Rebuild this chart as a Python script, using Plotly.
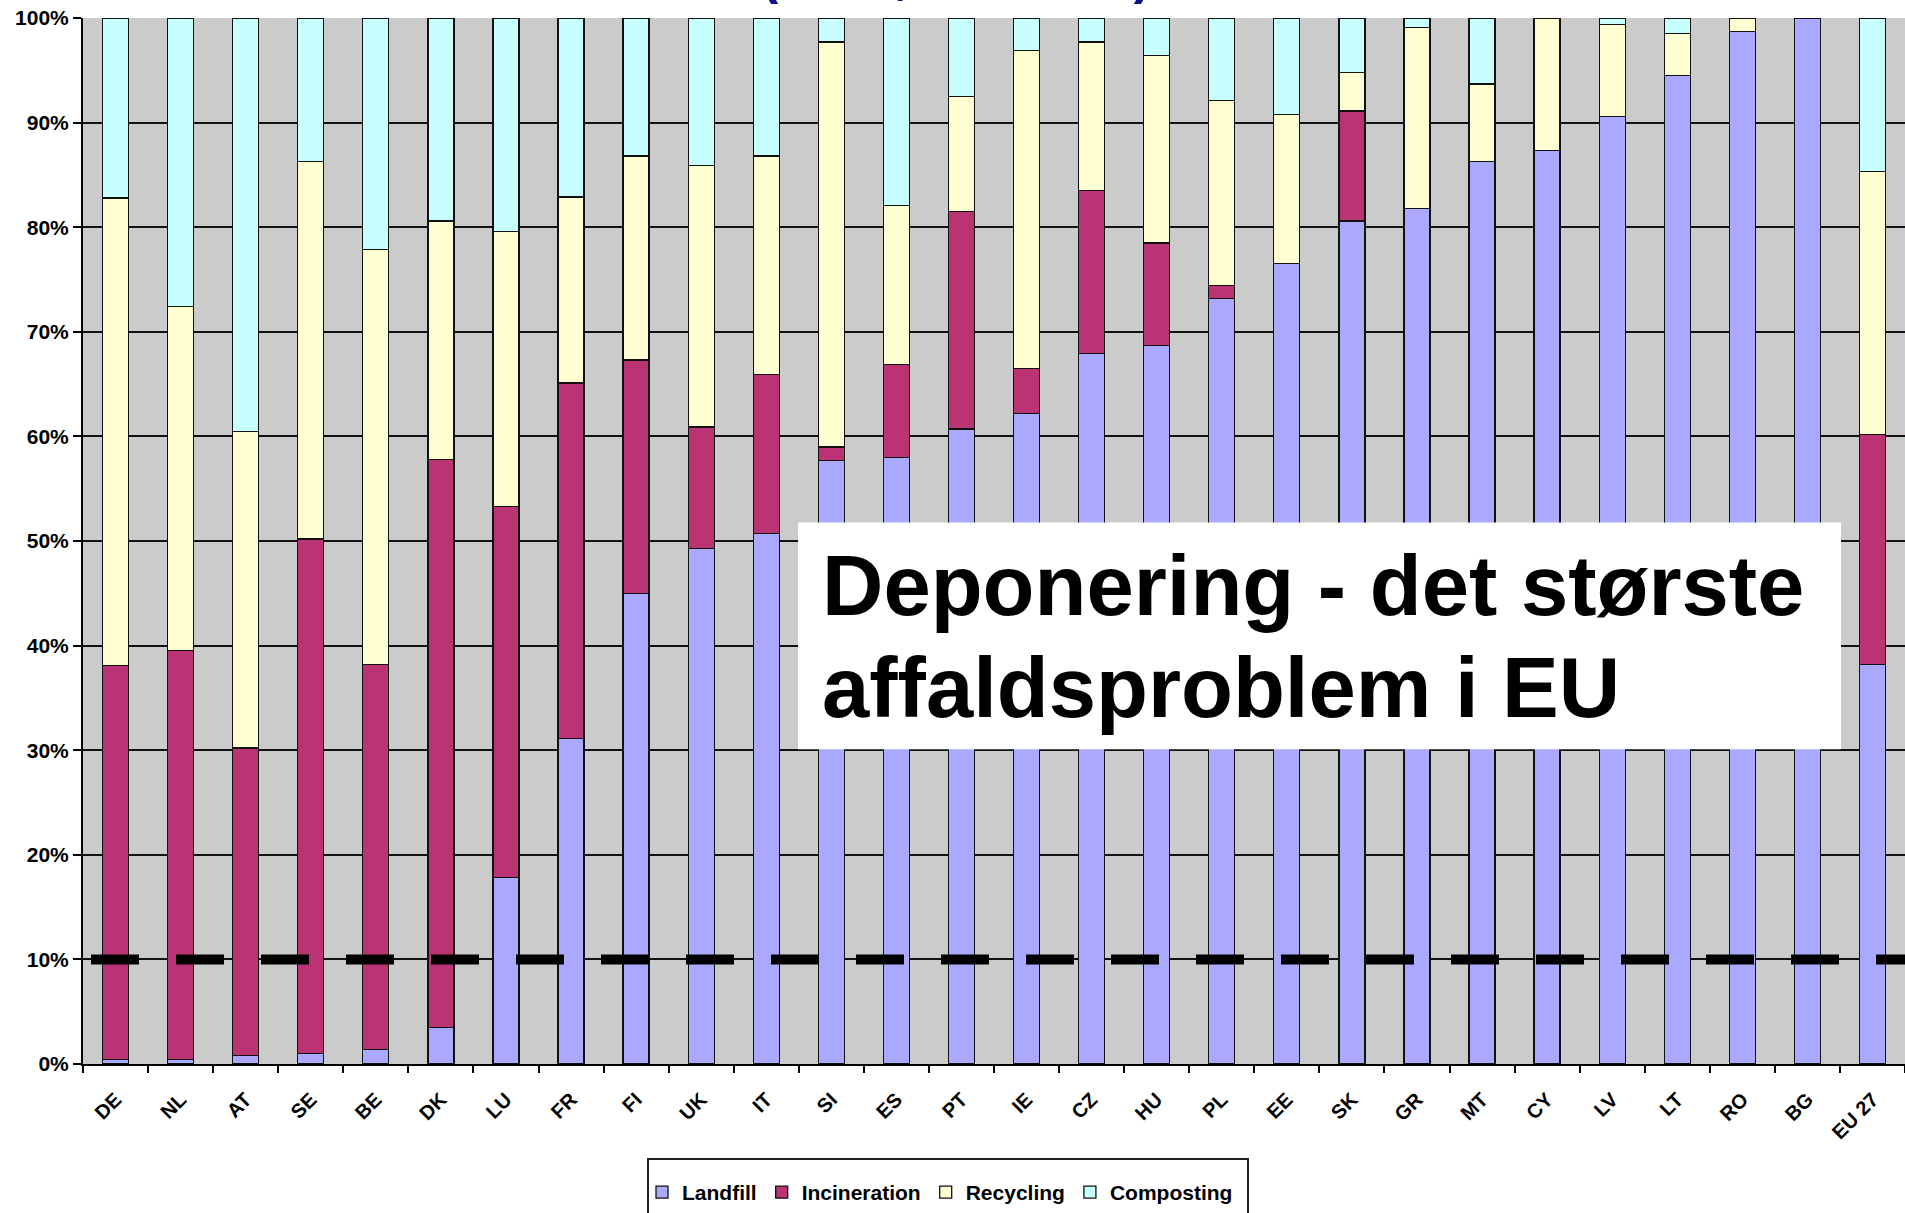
import plotly.graph_objects as go

countries = ["DE", "NL", "AT", "SE", "BE", "DK", "LU", "FR", "FI", "UK", "IT", "SI", "ES", "PT",
             "IE", "CZ", "HU", "PL", "EE", "SK", "GR", "MT", "CY", "LV", "LT", "RO", "BG", "EU 27"]

landfill =     [0.4, 0.4, 0.8, 1.0, 1.4, 3.5, 17.8, 31.1, 45.0, 49.3, 50.7, 57.7, 58.0, 60.7,
                62.2, 67.9, 68.7, 73.2, 76.5, 80.6, 81.8, 86.3, 87.3, 90.6, 94.5, 98.7, 100.0, 38.2]
incineration = [37.7, 39.1, 29.4, 49.2, 36.8, 54.3, 35.5, 34.0, 22.3, 11.6, 15.2, 1.3, 8.9, 20.8,
                 4.3, 15.6, 9.8, 1.2, 0.0, 10.5, 0.0, 0.0, 0.0, 0.0, 0.0, 0.0, 0.0, 22.0]
recycling =    [44.7, 32.9, 30.3, 36.1, 39.7, 22.8, 26.3, 17.8, 19.5, 25.0, 20.9, 38.7, 15.2, 11.0,
                30.4, 14.2, 17.9, 17.7, 14.3, 3.7, 17.3, 7.4, 12.7, 8.8, 4.0, 1.3, 0.0, 25.1]
composting =   [17.2, 27.6, 39.5, 13.7, 22.1, 19.4, 20.4, 17.1, 13.2, 14.1, 13.2, 2.3, 17.9, 7.5,
                3.1, 2.3, 3.6, 7.9, 9.2, 5.2, 0.9, 6.3, 0.0, 0.6, 1.5, 0.0, 0.0, 14.7]

series_names = ["Landfill", "Incineration", "Recycling", "Composting"]
series_values = [landfill, incineration, recycling, composting]
series_colors = ["#ABA8FF", "#BA3474", "#FFFDD2", "#C7FEFE"]

y_ticks = [0, 10, 20, 30, 40, 50, 60, 70, 80, 90, 100]
target = 10

title_text = "(2006, Eurostat)"
box_lines = ["Deponering - det største", "affaldsproblem i EU"]

fig = go.Figure()
for name, vals, col in zip(series_names, series_values, series_colors):
    fig.add_trace(go.Bar(
        x=countries, y=vals, name=name,
        marker=dict(color=col, line=dict(color="#111111", width=1.3)),
    ))

W, H = 1905, 1213
L, R, T, B = 83, 0, 18, 148
pw = W - L - R
ph = H - T - B

def px_x(p):
    return (p - L) / pw

def px_y(p):
    return (H - B - p) / ph

fig.update_layout(
    width=W, height=H,
    margin=dict(l=L, r=R, t=T, b=B, pad=0),
    barmode="stack",
    bargap=0.6,
    plot_bgcolor="#CBCBCB",
    paper_bgcolor="white",
    font=dict(family="Liberation Sans, Arial, sans-serif", color="black"),
    showlegend=True,
    legend=dict(
        orientation="h",
        x=px_x(642), xanchor="left",
        y=px_y(1194), yanchor="middle",
        borderwidth=0,
        bgcolor="rgba(0,0,0,0)",
        font=dict(family="Liberation Sans Narrow, Arial Narrow, Liberation Sans, sans-serif",
                  size=21, weight="bold", color="black"),
        itemwidth=30,
        traceorder="normal",
        tracegroupgap=0,
    ),
    xaxis=dict(
        type="category",
        tickangle=-45,
        tickson="boundaries",
        ticks="outside", ticklen=7, tickwidth=1.5, tickcolor="black",
        ticklabelstandoff=14,
        showline=True, linecolor="black", linewidth=2,
        tickfont=dict(size=20, weight="bold", color="black"),
        range=[-0.5, len(countries) - 0.5],
        showgrid=False,
    ),
    yaxis=dict(
        range=[0, 100],
        tickvals=y_ticks,
        ticktext=[f"{v}%" for v in y_ticks],
        ticks="outside", ticklen=8, tickwidth=1.5, tickcolor="black",
        showline=True, linecolor="black", linewidth=2,
        showgrid=True, gridcolor="#111111", gridwidth=1.5,
        tickfont=dict(size=21, weight="bold", color="black"),
        zeroline=False,
    ),
)

# legend frame (runs off the bottom edge like the original)
fig.add_shape(type="rect", xref="paper", yref="paper",
              x0=px_x(648), x1=px_x(1248), y0=px_y(1225), y1=px_y(1160),
              fillcolor="white", line=dict(color="#222222", width=2), layer="below")

# 10% target dashed line
fig.add_shape(type="line", xref="paper", yref="y",
              x0=px_x(91), x1=1.0, y0=target, y1=target,
              line=dict(color="black", width=10, dash="48px,37px"), layer="above")

# white text box
fig.add_shape(type="rect", xref="paper", yref="paper",
              x0=px_x(798), x1=px_x(1841), y0=px_y(750), y1=px_y(523),
              fillcolor="white", line=dict(width=0), layer="above")
for line_text, cy in zip(box_lines, [586, 688]):
    fig.add_annotation(xref="paper", yref="paper", x=px_x(820), y=px_y(cy),
                       xanchor="left", yanchor="middle", showarrow=False,
                       text=line_text,
                       font=dict(size=85, weight="bold", color="black",
                                 family="Liberation Sans, Arial, sans-serif"))

# title, mostly above the visible page (only its lowest parts show)
fig.add_annotation(xref="paper", yref="paper", x=px_x(956), y=px_y(-25),
                   xanchor="center", yanchor="middle", showarrow=False,
                   text=title_text,
                   font=dict(size=52, weight="bold", color="#10108A",
                             family="Liberation Sans, Arial, sans-serif"))

fig.write_html("out.html",
               config={"displayModeBar": False},
               post_script="document.body.style.margin='0px';document.body.style.overflow='hidden';")
